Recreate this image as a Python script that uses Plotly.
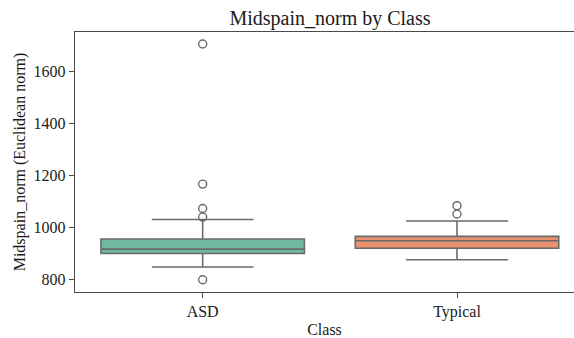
import plotly.graph_objects as go

# Box summary statistics per class
classes = ["ASD", "Typical"]
q1 = [898, 918]
median = [915, 947]
q3 = [954, 964]
lower_whisker = [846, 874]
upper_whisker = [1029, 1023]

# Outlying observations per class
asd_outliers = [1704, 1165, 1071, 1038, 797]
typical_outliers = [1082, 1050]

y_ticks = [800, 1000, 1200, 1400, 1600]

fills = ["#6fb9a0", "#e8916f"]
line_gray = "#6a6a6a"
font_family = "Liberation Serif"
text_color = "#1a1a1a"

fig = go.Figure()

for i, cls in enumerate(classes):
    fig.add_trace(go.Box(
        x=[cls],
        q1=[q1[i]],
        median=[median[i]],
        q3=[q3[i]],
        lowerfence=[lower_whisker[i]],
        upperfence=[upper_whisker[i]],
        fillcolor=fills[i],
        line=dict(color=line_gray, width=1.6),
        width=0.8,
        whiskerwidth=0.5,
        boxpoints=False,
        showlegend=False,
        hoverinfo="skip",
    ))

for cls, vals in (("ASD", asd_outliers), ("Typical", typical_outliers)):
    fig.add_trace(go.Scatter(
        x=[cls] * len(vals),
        y=vals,
        mode="markers",
        marker=dict(symbol="circle-open", size=8, color=line_gray,
                    line=dict(width=1.4, color=line_gray)),
        showlegend=False,
        hoverinfo="skip",
    ))

fig.update_layout(
    width=574,
    height=338,
    margin=dict(l=75, r=0, t=32, b=46),
    paper_bgcolor="white",
    plot_bgcolor="white",
    font=dict(family=font_family, size=16, color=text_color),
    title=dict(
        text="Midspain_norm by Class",
        x=330 / 574, xanchor="center",
        y=1 - 18 / 338, yanchor="middle",
        xref="container",
        yref="container",
        font=dict(family=font_family, size=20, color=text_color),
    ),
)

fig.update_xaxes(
    type="category",
    categoryorder="array",
    categoryarray=classes,
    range=[-0.502, 1.46],
    title=dict(text="Class", standoff=4,
               font=dict(family=font_family, size=16, color=text_color)),
    showgrid=False,
    zeroline=False,
    showline=True,
    linecolor="#4a4a4a",
    linewidth=1.4,
    mirror=True,
    ticks="outside",
    ticklen=5,
    tickwidth=1.2,
    tickcolor="#4a4a4a",
    tickfont=dict(family=font_family, size=16, color=text_color),
)

fig.update_yaxes(
    range=[750, 1750],
    tickvals=y_ticks,
    ticktext=[str(v) for v in y_ticks],
    title=dict(text="Midspain_norm (Euclidean norm)", standoff=3,
               font=dict(family=font_family, size=16, color=text_color)),
    showgrid=False,
    zeroline=False,
    showline=True,
    linecolor="#4a4a4a",
    linewidth=1.4,
    mirror=False,
    ticks="outside",
    ticklen=5,
    tickwidth=1.2,
    tickcolor="#4a4a4a",
    tickfont=dict(family=font_family, size=16, color=text_color),
)

fig.write_html("out.html")
